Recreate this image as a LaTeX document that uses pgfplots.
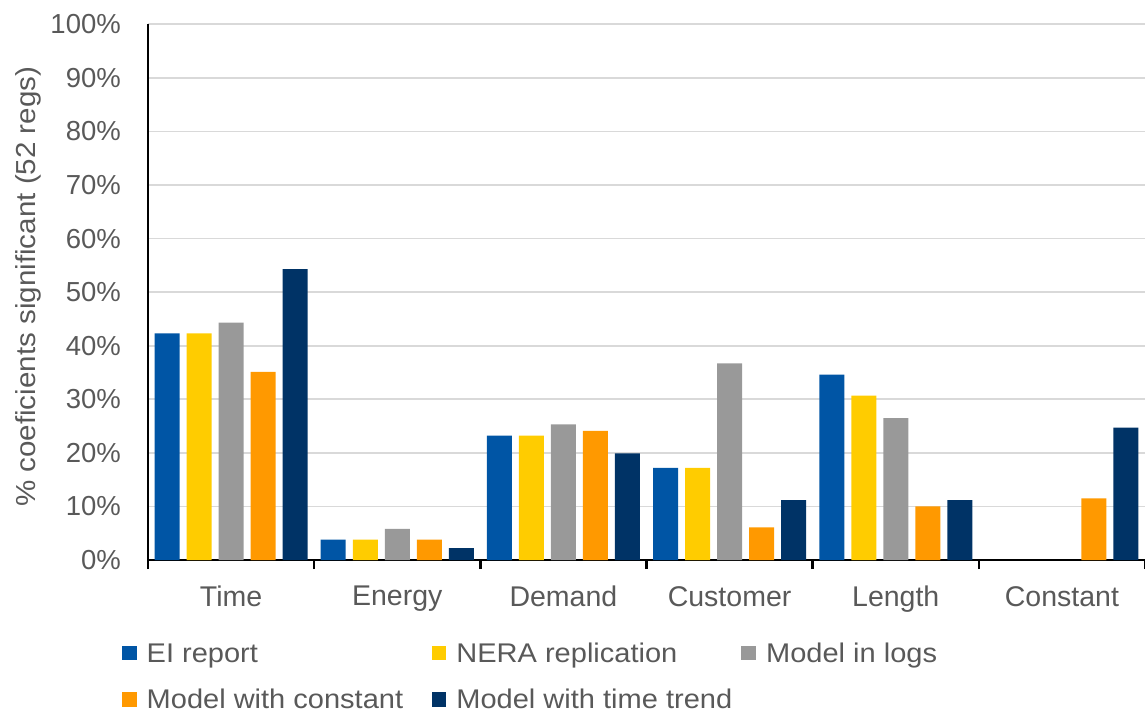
\documentclass[border=0pt]{standalone}
\usepackage{fontspec}
\setmainfont{Liberation Sans}
\newfontfamily\widefont[FakeStretch=1.075]{Liberation Sans}
\usepackage{pgfplots}
\pgfplotsset{compat=1.18}

\definecolor{eiblue}{HTML}{0055A5}
\definecolor{nerayellow}{HTML}{FFCC00}
\definecolor{loggray}{HTML}{999999}
\definecolor{constorange}{HTML}{FF9900}
\definecolor{trendnavy}{HTML}{003366}
\definecolor{txtgray}{HTML}{595959}
\definecolor{gridgray}{HTML}{D9D9D9}

% fixed-width legend cell, shallow depth so the last row stays inside
\newcommand{\legtext}[1]{\makebox[285pt][l]{\rule[-1.5pt]{0pt}{22pt}#1}}

\begin{document}
\begin{tikzpicture}
\begin{axis}[
    scale only axis,
    width=997pt, height=535.7pt,
    ybar=7pt, bar width=25pt,
    xmin=-0.5, xmax=5.5,
    ymin=0, ymax=100,
    axis x line*=bottom,
    axis y line*=left,
    axis line style={black, line width=2.5pt, -},
    xtick={0,...,5},
    xticklabels={Time,Energy,Demand,Customer,Length,Constant},
    minor xtick={-0.5,0.5,...,5.5},
    ytick={0,10,...,100},
    yticklabels={0\%,10\%,20\%,30\%,40\%,50\%,60\%,70\%,80\%,90\%,100\%},
    major tick length=0pt,
    minor tick length=9pt,
    tick align=outside,
    minor tick style={black, line width=2.5pt},
    ymajorgrids,
    major grid style={gridgray, line width=1.8pt},
    tick label style={font=\fontsize{27.5}{32}\selectfont, text=txtgray},
    xticklabel style={font=\fontsize{28.5}{33}\selectfont, inner sep=0pt, anchor=north, yshift=-26pt},
    yticklabel style={inner sep=0pt, anchor=east, xshift=-27pt},
    ylabel={\% coeficients significant (52 regs)},
    ylabel style={at={(axis description cs:-0.1204,0.51)}, anchor=center,
        font=\widefont\fontsize{27.5}{32}\selectfont, text=txtgray},
    legend columns=3,
    legend image code/.code={\fill[#1] (0pt,-7.3pt) rectangle (14.7pt,7.3pt);},
    legend style={draw=none, fill=none,
        at={(axis description cs:0,0)}, anchor=north west,
        xshift=-26pt, yshift=-81.8pt,
        inner sep=0pt, outer sep=0pt, row sep=24.5pt,
        font=\widefont\fontsize{27}{31}\selectfont, text=txtgray,
        nodes={inner sep=0pt},
        /tikz/every odd column/.append style={column sep=10pt}},
]

% EI report
\addplot[fill=eiblue, draw=none] coordinates
    {(0,42.3) (1,3.8) (2,23.2) (3,17.2) (4,34.6)};
\addlegendentry{\legtext{EI report}}
% NERA replication
\addplot[fill=nerayellow, draw=none] coordinates
    {(0,42.3) (1,3.8) (2,23.2) (3,17.2) (4,30.7)};
\addlegendentry{\legtext{NERA replication}}
% Model in logs
\addplot[fill=loggray, draw=none] coordinates
    {(0,44.3) (1,5.8) (2,25.3) (3,36.7) (4,26.5)};
\addlegendentry{\legtext{Model in logs}}
% Model with constant
\addplot[fill=constorange, draw=none] coordinates
    {(0,35.1) (1,3.8) (2,24.1) (3,6.1) (4,10.0) (5,11.5)};
\addlegendentry{\legtext{Model with constant}}
% Model with time trend
\addplot[fill=trendnavy, draw=none] coordinates
    {(0,54.3) (1,2.2) (2,19.9) (3,11.2) (4,11.2) (5,24.7)};
\addlegendentry{\legtext{Model with time trend}}

\end{axis}
\pgfresetboundingbox
\path[use as bounding box] (-148pt,-155pt) rectangle (997pt,560pt);
\end{tikzpicture}
\end{document}
